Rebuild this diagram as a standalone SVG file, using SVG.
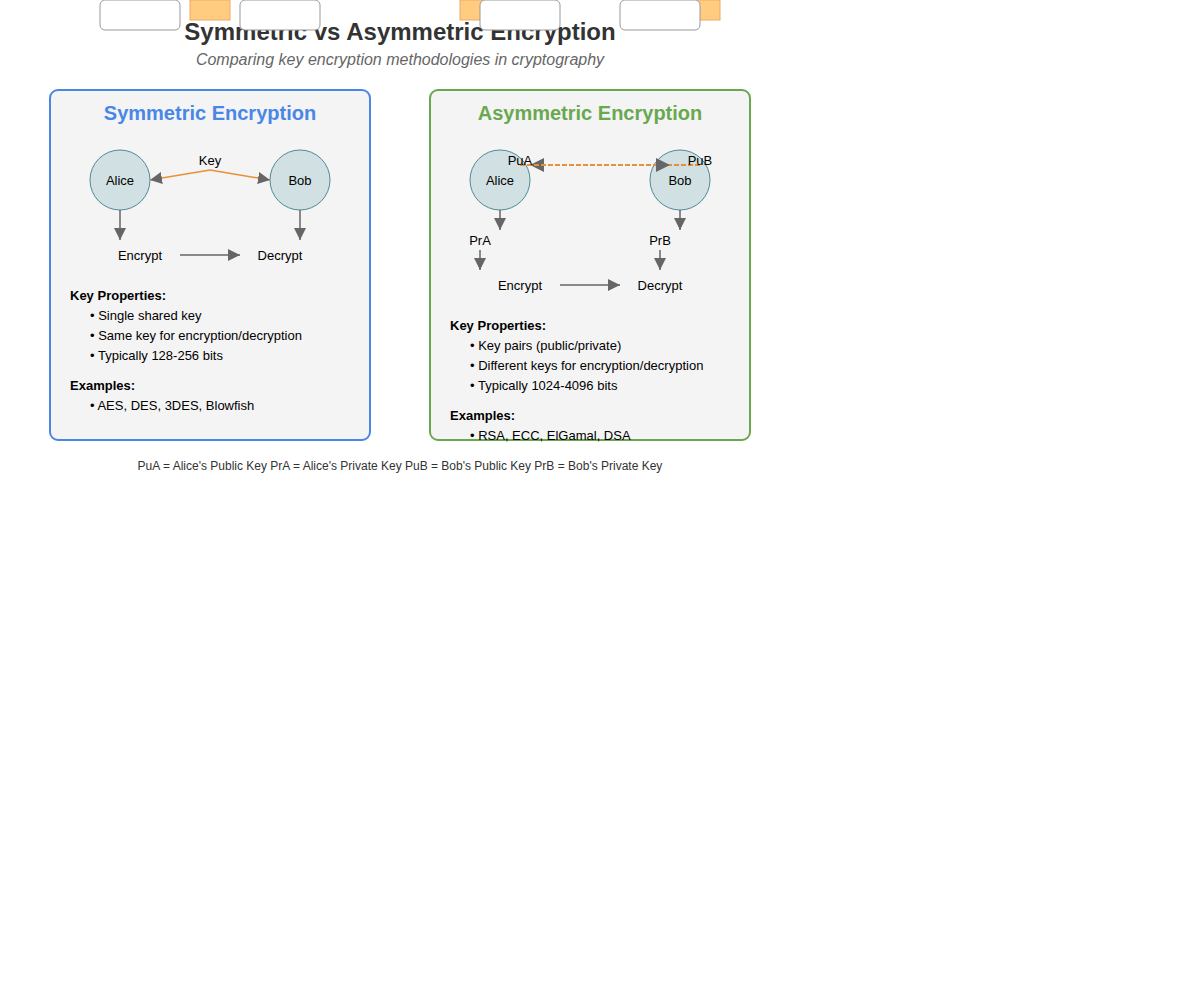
<svg xmlns="http://www.w3.org/2000/svg" width="1200" height="1000" viewBox="0 0 1200 1000">
<defs>
<marker id="arr" viewBox="0 0 10 10" refX="10" refY="5" markerWidth="8" markerHeight="8" orient="auto-start-reverse" markerUnits="strokeWidth">
<path d="M0,0 L10,5 L0,10 z" fill="#666"/>
</marker>
<marker id="arr2" viewBox="0 0 10 10" refX="10" refY="5" markerWidth="7" markerHeight="7" orient="auto-start-reverse" markerUnits="strokeWidth">
<path d="M0,0 L10,5 L0,10 z" fill="#666"/>
</marker>
<style>
text{font-family:"Liberation Sans",Arial,sans-serif;fill:#000}
.title{font-size:24px;font-weight:bold;fill:#333}
.sub{font-size:16px;font-style:italic;fill:#666}
.panel{fill:#f4f4f4;stroke-width:2}
.ptitle{font-size:20px;font-weight:bold}
.node{fill:#d0e0e3;stroke:#4f8a94;stroke-width:1}
.lbl{font-size:13px}
.hd{font-size:13px;font-weight:bold}
.it{font-size:13px}
.conn{stroke:#666;stroke-width:1.5;fill:none}
.key{stroke:#e69138;stroke-width:1.5;fill:none}
.pub{stroke:#e69138;stroke-width:2;fill:none;stroke-dasharray:5,2}
.top{fill:#fff;stroke:#999;stroke-width:1}
.ora{fill:#ffcc80;stroke:#f0a860;stroke-width:1}
</style>
</defs>
<rect width="1200" height="1000" fill="#fff"/>
<text class="title" x="400" y="40" text-anchor="middle">Symmetric vs Asymmetric Encryption</text>
<text class="sub" x="400" y="65" text-anchor="middle">Comparing key encryption methodologies in cryptography</text>

<g id="top-decor">
<rect class="ora" x="190" y="0" width="40" height="20"/>
<rect class="ora" x="460" y="0" width="40" height="20"/>
<rect class="ora" x="680" y="0" width="40" height="20"/>
<rect class="top" x="100" y="0" width="80" height="30" rx="5"/>
<rect class="top" x="240" y="0" width="80" height="30" rx="5"/>
<rect class="top" x="480" y="0" width="80" height="30" rx="5"/>
<rect class="top" x="620" y="0" width="80" height="30" rx="5"/>
</g>

<g id="sym-panel">
<rect class="panel" x="50" y="90" width="320" height="350" rx="8" stroke="#4a86e8"/>
<text class="ptitle" x="210" y="120" text-anchor="middle" style="fill:#4a86e8">Symmetric Encryption</text>
</g>
<g id="sym-alice"><circle class="node" cx="120" cy="180" r="30"/><text class="lbl" x="120" y="185" text-anchor="middle">Alice</text></g>
<g id="sym-bob"><circle class="node" cx="300" cy="180" r="30"/><text class="lbl" x="300" y="185" text-anchor="middle">Bob</text></g>
<g id="sym-encrypt"><text class="lbl" x="140" y="260" text-anchor="middle">Encrypt</text></g>
<g id="sym-decrypt"><text class="lbl" x="280" y="260" text-anchor="middle">Decrypt</text></g>
<g id="sym-text">
<text class="hd" x="70" y="300">Key Properties:</text>
<text class="it" x="90" y="320">• Single shared key</text>
<text class="it" x="90" y="340">• Same key for encryption/decryption</text>
<text class="it" x="90" y="360">• Typically 128-256 bits</text>
<text class="hd" x="70" y="390">Examples:</text>
<text class="it" x="90" y="410">• AES, DES, 3DES, Blowfish</text>
</g>

<g id="asym-panel">
<rect class="panel" x="430" y="90" width="320" height="350" rx="8" stroke="#6aa84f"/>
<text class="ptitle" x="590" y="120" text-anchor="middle" style="fill:#6aa84f">Asymmetric Encryption</text>
</g>
<g id="asym-alice"><circle class="node" cx="500" cy="180" r="30"/><text class="lbl" x="500" y="185" text-anchor="middle">Alice</text></g>
<g id="asym-bob"><circle class="node" cx="680" cy="180" r="30"/><text class="lbl" x="680" y="185" text-anchor="middle">Bob</text></g>
<g id="asym-encrypt"><text class="lbl" x="520" y="290" text-anchor="middle">Encrypt</text></g>
<g id="asym-decrypt"><text class="lbl" x="660" y="290" text-anchor="middle">Decrypt</text></g>
<g id="asym-text">
<text class="hd" x="450" y="330">Key Properties:</text>
<text class="it" x="470" y="350">• Key pairs (public/private)</text>
<text class="it" x="470" y="370">• Different keys for encryption/decryption</text>
<text class="it" x="470" y="390">• Typically 1024-4096 bits</text>
<text class="hd" x="450" y="420">Examples:</text>
<text class="it" x="470" y="440">• RSA, ECC, ElGamal, DSA</text>
</g>

<g id="connectors">
<path class="key" d="M210,170 L150,180" marker-end="url(#arr)"/>
<path class="key" d="M210,170 L270,180" marker-end="url(#arr)"/>
<text class="lbl" x="210" y="165" text-anchor="middle">Key</text>
<path class="conn" d="M120,210 L120,240" marker-end="url(#arr)"/>
<path class="conn" d="M300,210 L300,240" marker-end="url(#arr)"/>
<path class="conn" d="M180,255 L240,255" marker-end="url(#arr)"/>

<path class="pub" d="M700,165 L530,165" marker-end="url(#arr2)"/>
<path class="pub" d="M520,165 L670,165" marker-end="url(#arr2)"/>
<text class="lbl" x="520" y="165" text-anchor="middle">PuA</text>
<text class="lbl" x="700" y="165" text-anchor="middle">PuB</text>
<path class="conn" d="M500,210 L500,230" marker-end="url(#arr)"/>
<path class="conn" d="M680,210 L680,230" marker-end="url(#arr)"/>
<text class="lbl" x="480" y="245" text-anchor="middle">PrA</text>
<text class="lbl" x="660" y="245" text-anchor="middle">PrB</text>
<path class="conn" d="M480,250 L480,270" marker-end="url(#arr)"/>
<path class="conn" d="M660,250 L660,270" marker-end="url(#arr)"/>
<path class="conn" d="M560,285 L620,285" marker-end="url(#arr)"/>
</g>

<text x="400" y="470" text-anchor="middle" style="font-size:12px;fill:#333">PuA = Alice's Public Key PrA = Alice's Private Key PuB = Bob's Public Key PrB = Bob's Private Key</text>
</svg>
